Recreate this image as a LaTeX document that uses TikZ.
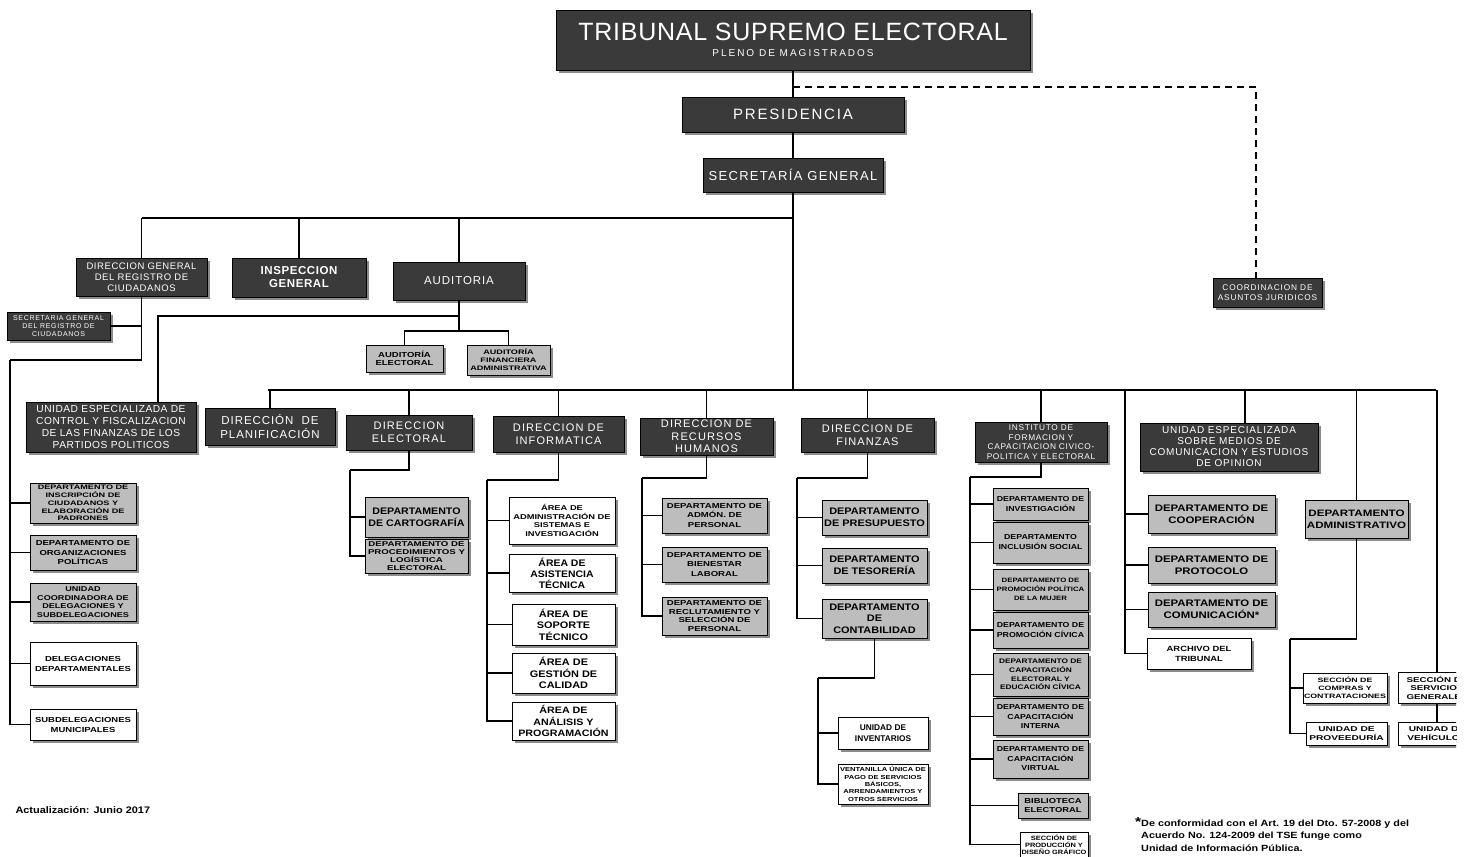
\documentclass[tikz,border=0pt]{standalone}
\usepackage{fontspec}
\setmainfont{Liberation Sans}
\usetikzlibrary{shadows,calc}
\definecolor{dk}{HTML}{3A3A3A}
\definecolor{lg}{HTML}{BDBDBD}
\definecolor{sh}{HTML}{8C8C8C}
\newcommand\fs[2]{\fontsize{#1}{#2}\selectfont}
\newcommand\Bf[2]{\bfseries\fontsize{#1}{#2}\selectfont}
\newcommand\Rf[2]{\fontsize{#1}{#2}\selectfont}
\newcommand\Sx[1]{\addfontfeature{FakeStretch=#1}}
\newcommand\Ls[1]{\addfontfeature{LetterSpace=#1}}
\newcommand\ob[7]{\node[#2,minimum width={#5-#3},minimum height={#6-#4}] (#1) at ({(#3+#5)/2},{(#4+#6)/2}) {#7};}
\tikzset{
  box/.style={draw=black, line width=0.8pt, align=center, inner sep=1pt,
    drop shadow={shadow xshift=3pt, shadow yshift=-3pt, fill=sh, opacity=1}},
  dkb/.style={box, fill=dk, text=white},
  grb/.style={box, fill=lg},
  whb/.style={box, fill=white},
  ln/.style={line width=1.4pt, draw=black},
  dsh/.style={line width=1.4pt, draw=black, dash pattern=on 7pt off 5pt}
}
\begin{document}
\begin{tikzpicture}[x=1pt,y=-1pt]
\useasboundingbox (0,0) rectangle (1465,857);
\fill[white] (0,0) rectangle (1465,857);
\clip (0,0) rectangle (1456,857);

% top levels
\ob{tse}{dkb, font=\Rf{25}{16}}{556}{10}{1030}{70}{{\Ls{3}TRIBUNAL SUPREMO ELECTORAL}\\{\Rf{10}{12}\Ls{20}PLENO DE MAGISTRADOS}}
\ob{pres}{dkb, font=\Rf{15}{17}\Ls{12}}{682}{97}{904}{132}{PRESIDENCIA}
\ob{sg}{dkb, font=\Rf{13}{15}\Ls{10}}{703}{158}{883}{192}{SECRETARÍA GENERAL}

\ob{dgr}{dkb, font=\Rf{9.5}{11}\Ls{6}}{76}{258}{207}{296}{DIRECCION GENERAL\\DEL REGISTRO DE\\CIUDADANOS}
\ob{insp}{dkb, font=\Bf{11.5}{13}\Ls{5}}{232}{258}{366}{297}{INSPECCION\\GENERAL}
\ob{aud}{dkb, font=\Rf{11.5}{13}\Ls{8}}{393}{262}{525}{300}{AUDITORIA}
\ob{cj}{dkb, font=\Rf{8.3}{10}\Ls{10}}{1213}{278}{1322}{307}{COORDINACION DE\\ASUNTOS JURIDICOS}
\ob{sgr}{dkb, font=\Rf{7}{8}\Ls{10}}{7}{312}{110}{340}{SECRETARIA GENERAL\\DEL REGISTRO DE\\CIUDADANOS}
\ob{ae}{grb, font=\Bf{7.3}{8.5}\Sx{1.3}}{366}{345}{443}{372}{AUDITORÍA\\ELECTORAL}
\ob{af}{grb, font=\Bf{6.5}{8}\Sx{1.4}}{467}{345}{550}{375}{AUDITORÍA\\FINANCIERA\\ADMINISTRATIVA}

% second row
\ob{ucf}{dkb, font=\Rf{10.2}{12}\Ls{5}}{26}{402}{196}{452}{UNIDAD ESPECIALIZADA DE\\CONTROL Y FISCALIZACION\\DE LAS FINANZAS DE LOS\\PARTIDOS POLITICOS}
\ob{plan}{dkb, font=\Rf{11.5}{14}\Ls{8}}{205}{408}{335}{445}{DIRECCIÓN\ \ DE\\PLANIFICACIÓN}
\ob{del}{dkb, font=\Rf{11}{13}\Ls{10}}{346}{415}{472}{450}{DIRECCION\\ELECTORAL}
\ob{dinf}{dkb, font=\Rf{11}{13}\Ls{10}}{493}{416}{624}{452}{DIRECCION DE\\INFORMATICA}
\ob{drh}{dkb, font=\Rf{11}{12.5}\Ls{10}}{640}{418}{773}{455}{DIRECCION DE\\RECURSOS\\HUMANOS}
\ob{dfin}{dkb, font=\Rf{11}{13}\Ls{10}}{801}{418}{934}{452}{DIRECCION DE\\FINANZAS}
\ob{inst}{dkb, font=\Rf{8.3}{9.5}\Ls{8}}{975}{422}{1107}{462}{INSTITUTO DE\\FORMACION Y\\CAPACITACION CIVICO-\\POLITICA Y ELECTORAL}
\ob{ucom}{dkb, font=\Rf{10}{11}\Ls{8}}{1140}{423}{1318}{471}{UNIDAD ESPECIALIZADA\\SOBRE MEDIOS DE\\COMUNICACION Y ESTUDIOS\\DE OPINION}

% left column
\ob{insc}{grb, font=\Bf{6.5}{7.8}\Sx{1.4}}{30}{483}{136}{523}{DEPARTAMENTO DE\\INSCRIPCIÓN DE\\CIUDADANOS Y\\ELABORACIÓN DE\\PADRONES}
\ob{org}{grb, font=\Bf{7.3}{9.5}\Sx{1.3}}{30}{535}{136}{570}{DEPARTAMENTO DE\\ORGANIZACIONES\\POLÍTICAS}
\ob{ucd}{grb, font=\Bf{7}{8.6}\Sx{1.3}}{30}{583}{136}{621}{UNIDAD\\COORDINADORA DE\\DELEGACIONES Y\\SUBDELEGACIONES}
\ob{deleg}{whb, font=\Bf{7.3}{10}\Sx{1.3}}{30}{642}{136}{685}{DELEGACIONES\\DEPARTAMENTALES}
\ob{subd}{whb, font=\Bf{7.3}{10}\Sx{1.3}}{30}{709}{136}{740}{SUBDELEGACIONES\\MUNICIPALES}

% electoral
\ob{cart}{grb, font=\Bf{9.5}{12}\Sx{1.12}}{365}{497}{468}{537}{DEPARTAMENTO\\DE CARTOGRAFÍA}
\ob{proc}{grb, font=\Bf{7}{8}\Sx{1.38}}{365}{539}{468}{573}{DEPARTAMENTO DE\\PROCEDIMIENTOS Y\\LOGÍSTICA\\ELECTORAL}

% informatica
\ob{a1}{whb, font=\Bf{7}{8.8}\Sx{1.33}}{509}{497}{615}{544}{ÁREA DE\\ADMINISTRACIÓN DE\\SISTEMAS E\\INVESTIGACIÓN}
\ob{a2}{whb, font=\Bf{9.5}{11}\Sx{1.1}}{509}{554}{615}{592}{ÁREA DE\\ASISTENCIA\\TÉCNICA}
\ob{a3}{whb, font=\Bf{9.5}{11.5}\Sx{1.15}}{512}{604}{615}{645}{ÁREA DE\\SOPORTE\\TÉCNICO}
\ob{a4}{whb, font=\Bf{9.5}{11.5}\Sx{1.15}}{512}{653}{615}{693}{ÁREA DE\\GESTIÓN DE\\CALIDAD}
\ob{a5}{whb, font=\Bf{9.3}{11.5}\Sx{1.15}}{512}{702}{615}{740}{ÁREA DE\\ANÁLISIS Y\\PROGRAMACIÓN}

% rrhh
\ob{r1}{grb, font=\Bf{7.2}{9.5}\Sx{1.33}}{662}{498}{767}{533}{DEPARTAMENTO DE\\ADMÓN. DE\\PERSONAL}
\ob{r2}{grb, font=\Bf{7.2}{9.5}\Sx{1.33}}{662}{547}{767}{582}{DEPARTAMENTO DE\\BIENESTAR\\LABORAL}
\ob{r3}{grb, font=\Bf{7.2}{8.5}\Sx{1.33}}{662}{597}{767}{635}{DEPARTAMENTO DE\\RECLUTAMIENTO Y\\SELECCIÓN DE\\PERSONAL}

% finanzas
\ob{f1}{grb, font=\Bf{9.5}{12}\Sx{1.15}}{822}{500}{927}{535}{DEPARTAMENTO\\DE PRESUPUESTO}
\ob{f2}{grb, font=\Bf{9.5}{12}\Sx{1.15}}{822}{548}{927}{583}{DEPARTAMENTO\\DE TESORERÍA}
\ob{f3}{grb, font=\Bf{9.5}{11.5}\Sx{1.15}}{822}{599}{927}{638}{DEPARTAMENTO\\DE\\CONTABILIDAD}
\ob{inv}{whb, font=\Bf{8.3}{11}}{838}{717}{928}{749}{UNIDAD DE\\INVENTARIOS}
\ob{vent}{whb, font=\Bf{5.8}{7.3}\Sx{1.3}}{838}{764}{928}{804}{VENTANILLA ÚNICA DE\\PAGO DE SERVICIOS\\BÁSICOS,\\ARRENDAMIENTOS Y\\OTROS SERVICIOS}

% instituto
\ob{i1}{grb, font=\Bf{7.2}{10}\Sx{1.22}}{993}{488}{1088}{520}{DEPARTAMENTO DE\\INVESTIGACIÓN}
\ob{i2}{grb, font=\Bf{7.2}{10}\Sx{1.22}}{993}{522}{1088}{563}{DEPARTAMENTO\\INCLUSIÓN SOCIAL}
\ob{i3}{grb, font=\Bf{6.3}{9}\Sx{1.24}}{993}{569}{1088}{610}{DEPARTAMENTO DE\\PROMOCIÓN POLÍTICA\\DE LA MUJER}
\ob{i4}{grb, font=\Bf{7.2}{10}\Sx{1.22}}{993}{612}{1088}{648}{DEPARTAMENTO DE\\PROMOCIÓN CÍVICA}
\ob{i5}{grb, font=\Bf{6.6}{8.8}\Sx{1.26}}{993}{653}{1088}{696}{DEPARTAMENTO DE\\CAPACITACIÓN\\ELECTORAL Y\\EDUCACIÓN CÍVICA}
\ob{i6}{grb, font=\Bf{7.2}{9.5}\Sx{1.22}}{993}{698}{1088}{735}{DEPARTAMENTO DE\\CAPACITACIÓN\\INTERNA}
\ob{i7}{grb, font=\Bf{7.2}{9.5}\Sx{1.22}}{993}{740}{1088}{778}{DEPARTAMENTO DE\\CAPACITACIÓN\\VIRTUAL}
\ob{i8}{grb, font=\Bf{7.2}{9.5}\Sx{1.3}}{1018}{793}{1088}{818}{BIBLIOTECA\\ELECTORAL}
\ob{i9}{whb, font=\Bf{6.2}{7.2}\Sx{1.2}}{1020}{832}{1088}{857}{SECCIÓN DE\\PRODUCCIÓN Y\\DISEÑO GRÁFICO}

% comunicacion
\ob{c1}{grb, font=\Bf{9.5}{12}\Sx{1.2}}{1148}{495}{1275}{533}{DEPARTAMENTO DE\\COOPERACIÓN}
\ob{c2}{grb, font=\Bf{9.5}{12}\Sx{1.2}}{1148}{547}{1275}{583}{DEPARTAMENTO DE\\PROTOCOLO}
\ob{c3}{grb, font=\Bf{9.5}{12}\Sx{1.2}}{1148}{592}{1275}{627}{DEPARTAMENTO DE\\COMUNICACIÓN*}
\ob{arch}{whb, font=\Bf{7.5}{10}\Sx{1.25}}{1147}{638}{1251}{669}{ARCHIVO DEL\\TRIBUNAL}

% administrativo
\ob{adm}{grb, font=\Bf{9.3}{12}\Sx{1.25}}{1305}{500}{1408}{538}{DEPARTAMENTO\\ADMINISTRATIVO}
\ob{comp}{whb, font=\Bf{6.3}{8}\Sx{1.4}}{1303}{673}{1387}{703}{SECCIÓN DE\\COMPRAS Y\\CONTRATACIONES}
\ob{prov}{whb, font=\Bf{7}{8.5}\Sx{1.45}}{1306}{722}{1387}{745}{UNIDAD DE\\PROVEEDURÍA}
\ob{sgen}{whb, font=\Bf{7}{8.5}\Sx{1.4}}{1398}{672}{1476}{703}{SECCIÓN DE\\SERVICIOS\\GENERALES}
\ob{veh}{whb, font=\Bf{7}{8.5}\Sx{1.45}}{1398}{722}{1476}{745}{UNIDAD DE\\VEHÍCULOS}

% texts
\node[anchor=west, font=\Bf{9.5}{11}\Sx{1.15}] (act) at (12,810) {Actualización: Junio 2017};
\node[anchor=north west, align=left, inner sep=0pt, font=\Bf{9}{12.5}\Sx{1.2}] (note) at (1141,817)
  {\llap{\fs{13}{13}*}De conformidad con el Art. 19 del Dto. 57-2008 y del\\Acuerdo No. 124-2009 del TSE funge como\\Unidad de Información Pública.};

% connectors: top
\draw[ln] (tse.south) -- (pres.north);
\draw[ln] (pres.south) -- (sg.north);
\coordinate (bus) at (268,390);
\coordinate (busE) at (1436,390);
\draw[ln] (sg.south) -- (sg.south |- bus);
\draw[ln] (bus) -- (busE);
\coordinate (top) at (141.5,218);
\draw[ln] (top) -- (top -| sg.south);
\draw[ln] (dgr.north) -- (dgr.north |- top);
\draw[ln] (insp.north) -- (insp.north |- top);
\draw[ln] (aud.north) -- (aud.north |- top);
\coordinate (dk1) at (1256,87);
\draw[dsh] (tse.south |- dk1) -- (dk1) -- (dk1 |- cj.north);

% registro
\coordinate (lsp) at (10,360);
\draw[ln] (dgr.south) |- (lsp);
\draw[ln] (sgr.east) -- (sgr.east -| dgr.south);
\foreach \n in {insc,org,ucd,deleg,subd} \draw[ln] (lsp) |- (\n.west);

% auditoria
\coordinate (ab) at (0,331);
\coordinate (ucfJ) at (158,316);
\draw[ln] (aud.south) -- (aud.south |- ab);
\draw[ln] (ae.north) -- (ae.north |- ab) -- (af.north |- ab) -- (af.north);
\draw[ln] (aud.south |- ucfJ) -- (ucfJ) -- (ucfJ |- ucf.north);

% main bus drops
\foreach \n in {plan,del,dinf,drh,dfin,inst,adm,sgen} \draw[ln] (\n.north) -- (\n.north |- bus);
\coordinate (ucomJ) at (1245,390);
\draw[ln] (ucomJ) -- (ucomJ |- ucom.north);

% electoral
\coordinate (eJ) at (350,470);
\draw[ln] (del.south) |- (eJ);
\foreach \n in {cart,proc} \draw[ln] (eJ) |- (\n.west);
% informatica
\coordinate (iJ) at (487,480);
\draw[ln] (dinf.south) |- (iJ);
\foreach \n in {a1,a2,a3,a4,a5} \draw[ln] (iJ) |- (\n.west);
% rrhh
\coordinate (rJ) at (642,478);
\draw[ln] (drh.south) |- (rJ);
\foreach \n in {r1,r2,r3} \draw[ln] (rJ) |- (\n.west);
% finanzas
\coordinate (fJ) at (797,478);
\draw[ln] (dfin.south) |- (fJ);
\foreach \n in {f1,f2,f3} \draw[ln] (fJ) |- (\n.west);
\coordinate (f3J) at (818,678);
\draw[ln] (f3.south) |- (f3J);
\foreach \n in {inv,vent} \draw[ln] (f3J) |- (\n.west);
% instituto
\coordinate (nJ) at (970,477);
\draw[ln] (inst.south) |- (nJ);
\foreach \n in {i1,i2,i3,i4,i5,i6,i7,i8,i9} \draw[ln] (nJ) |- (\n.west);
% comunicacion
\coordinate (cJ) at (1125,390);
\foreach \n in {c1,c2,c3,arch} \draw[ln] (cJ) |- (\n.west);
% administrativo
\coordinate (aJ) at (1290,639);
\draw[ln] (adm.south) |- (aJ);
\foreach \n in {comp,prov} \draw[ln] (aJ) |- (\n.west);
\draw[ln] (sgen.south) -- (veh.north);
\end{tikzpicture}
\end{document}
